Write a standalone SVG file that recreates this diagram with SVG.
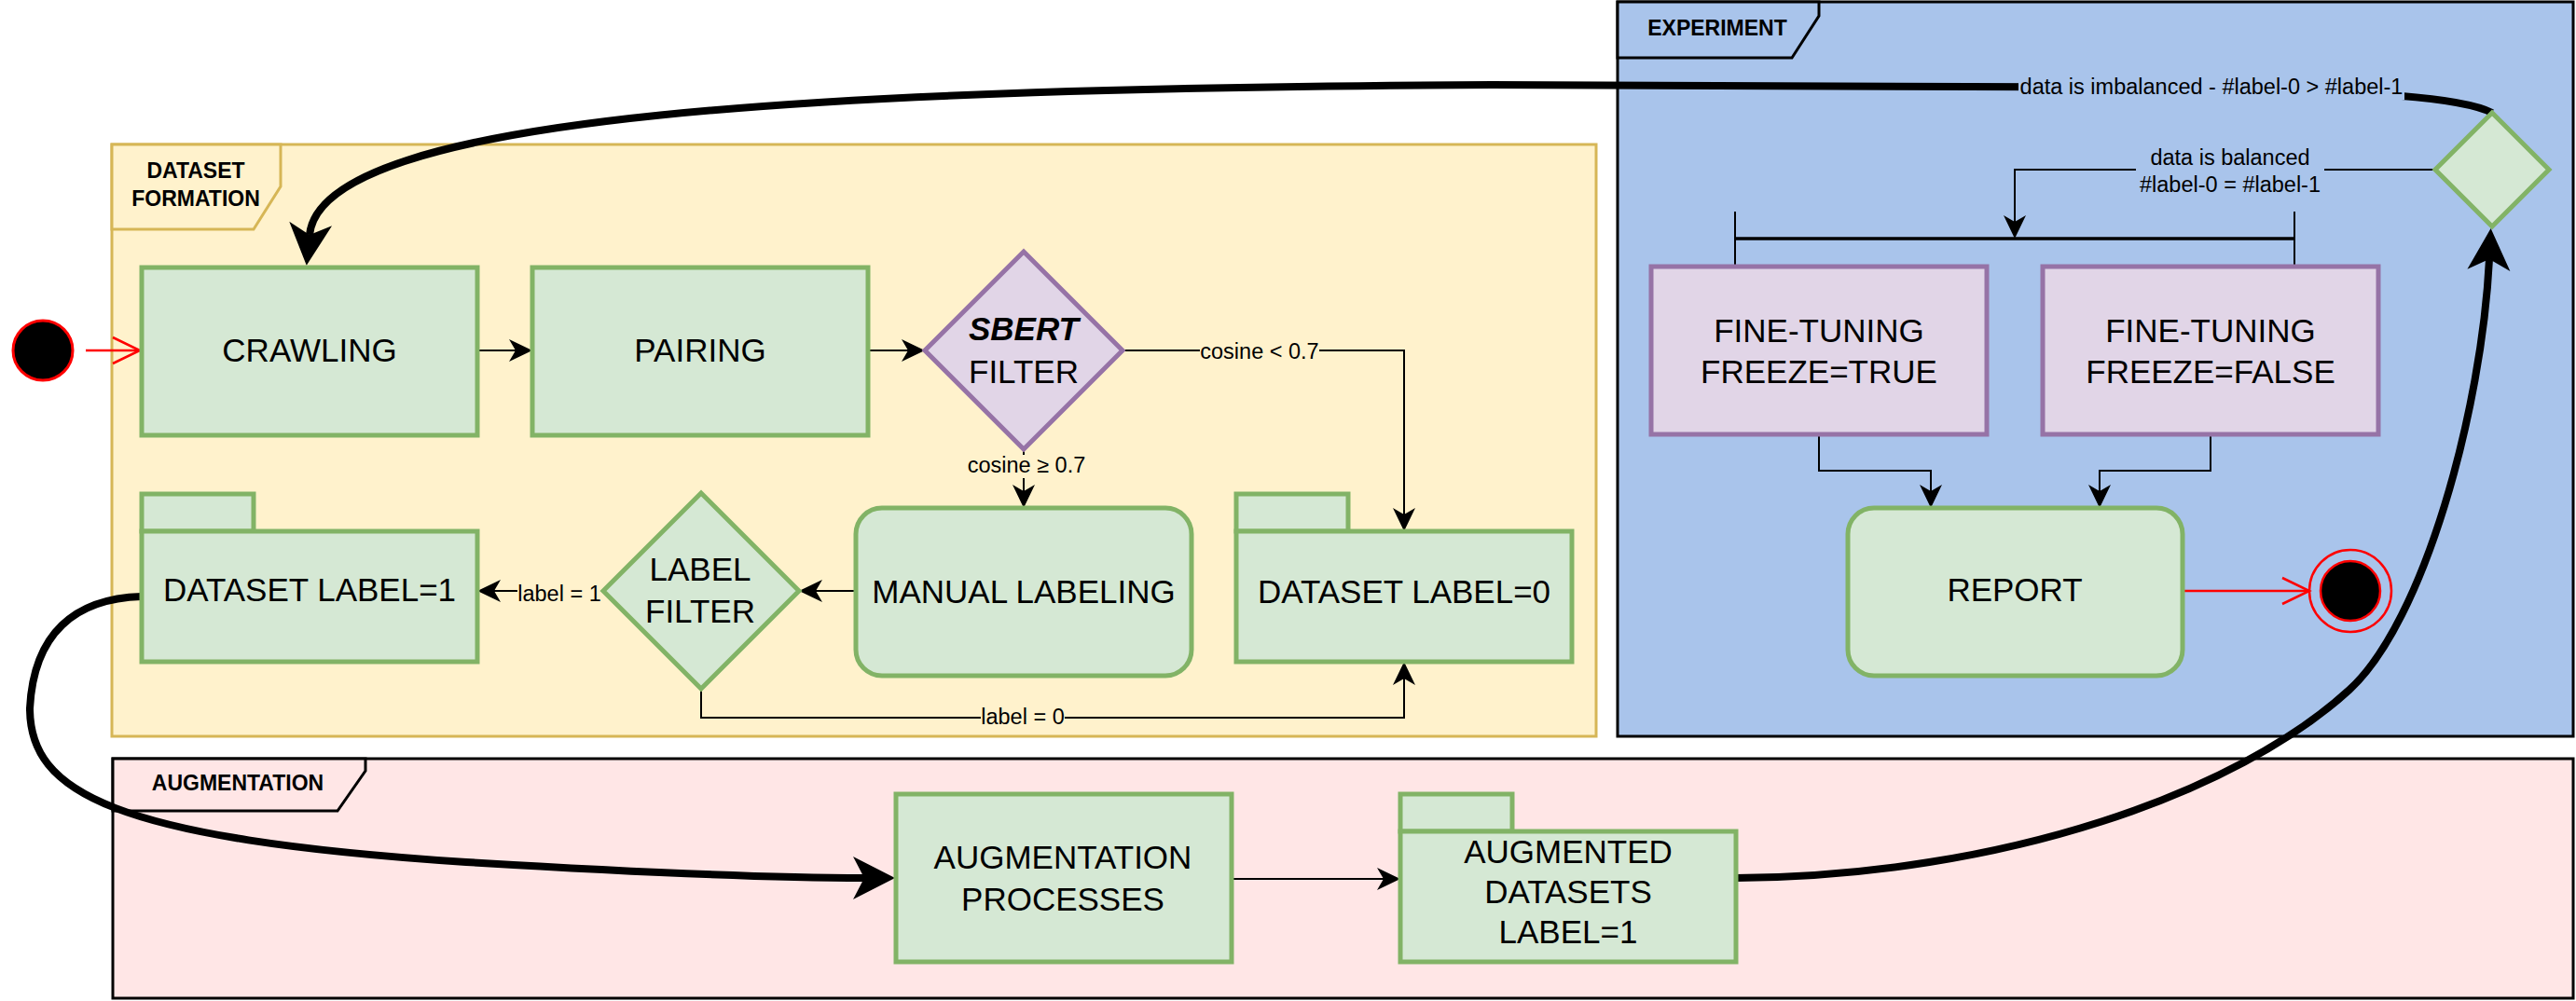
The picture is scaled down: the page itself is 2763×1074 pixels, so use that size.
<svg xmlns="http://www.w3.org/2000/svg" width="2763" height="1074" viewBox="0 0 2763 1074">
<style>
.cy{fill:#fff2cc;stroke:#d6b656;stroke-width:3}
.cb{fill:#a9c4eb;stroke:#000;stroke-width:3}
.cp{fill:#ffe6e6;stroke:#000;stroke-width:3}
.g{fill:#d5e8d4;stroke:#82b366;stroke-width:5}
.p{fill:#e1d5e7;stroke:#9673a6;stroke-width:5}
text{font-family:"Liberation Sans",Arial,Helvetica,sans-serif;text-anchor:middle;fill:#000}
.t{font-size:35px}
.tab{font-size:23px;font-weight:bold}
.l{font-size:23.5px}
.e{fill:none;stroke:#000;stroke-width:2}
.E{fill:none;stroke:#000;stroke-width:8}
.r{fill:none;stroke:#ff0000;stroke-width:2.5}
</style>
<defs>
<marker id="ah" markerUnits="userSpaceOnUse" viewBox="-8 -13 28 26" markerWidth="28" markerHeight="26" refX="0" refY="0" orient="auto"><path d="M-7,-12 L18,0 L-7,12 L0,0 Z" fill="#000"/></marker>
<marker id="ahT" markerUnits="userSpaceOnUse" viewBox="-14 -25 50 50" markerWidth="50" markerHeight="50" refX="0" refY="0" orient="auto"><path d="M-12,-23 L33,0 L-12,23 L0,0 Z" fill="#000"/></marker>
<marker id="ahR" markerUnits="userSpaceOnUse" viewBox="-32 -17 36 34" markerWidth="36" markerHeight="34" refX="0" refY="0" orient="auto"><path d="M-29,-14 L0,0 L-29,14" fill="none" stroke="#ff0000" stroke-width="2.5"/></marker>
</defs>

<g id="containers">
<g id="dataset-formation">
<rect class="cy" x="120" y="155" width="1592" height="635"/>
<polygon class="cy" points="120,155 301,155 301,200 272,246 120,246"/>
<text class="tab" x="210" y="191">DATASET</text>
<text class="tab" x="210" y="221">FORMATION</text>
</g>
<g id="experiment">
<rect class="cb" x="1735" y="2" width="1025" height="788"/>
<polygon class="cb" points="1735,2 1951,2 1951,17 1922,62 1735,62"/>
<text class="tab" x="1842" y="38">EXPERIMENT</text>
</g>
<g id="augmentation">
<rect class="cp" x="121" y="814" width="2639" height="257"/>
<polygon class="cp" points="121,814 392,814 392,827 362,870 121,870"/>
<text class="tab" x="255" y="848">AUGMENTATION</text>
</g>
</g>

<g id="connectors">
<path class="r" d="M92,376 H150" marker-end="url(#ahR)"/>
<path class="e" d="M512,376 H553" marker-end="url(#ah)"/>
<path class="e" d="M931,376 H974" marker-end="url(#ah)"/>
<path class="e" d="M1204,376 H1506 V552" marker-end="url(#ah)"/>
<path class="e" d="M1098,482 V527" marker-end="url(#ah)"/>
<path class="e" d="M918,634 H875" marker-end="url(#ah)"/>
<path class="e" d="M647,634 H530" marker-end="url(#ah)"/>
<path class="e" d="M752,739 V770 H1506 V728" marker-end="url(#ah)"/>
<path class="e" d="M1321,943 H1484" marker-end="url(#ah)"/>
<path class="e" d="M2612,182 H2161 V238" marker-end="url(#ah)"/>
<path class="e" d="M1951,466 V505 H2071 V527" marker-end="url(#ah)"/>
<path class="e" d="M2371,466 V505 H2252 V527" marker-end="url(#ah)"/>
<path class="r" d="M2340,634 H2477" marker-end="url(#ahR)"/>
<path class="E" d="M2673,121 C2640,104 2540,98 2372,95 C2100,92 1800,91 1600,91 C900,95 345,120 332,252" marker-end="url(#ahT)"/>
<path class="E" d="M152,640 C80,642 36,680 32,760 C32,850 120,900 500,925 C700,937 850,942 927,942" marker-end="url(#ahT)"/>
<path class="E" d="M1862,942 C2150,940 2400,850 2520,740 C2600,667 2662,440 2670,278" marker-end="url(#ahT)"/>

<rect x="1287" y="363" width="128" height="27" fill="#fff2cc"/>
<text class="l" x="1351" y="385">cosine &lt; 0.7</text>
<rect x="1037" y="488" width="128" height="25" fill="#fff2cc"/>
<text class="l" x="1101" y="507">cosine ≥ 0.7</text>
<rect x="1052" y="757" width="90" height="26" fill="#fff2cc"/>
<text class="l" x="1097" y="777">label = 0</text>
<rect x="555" y="622" width="90" height="26" fill="#fff2cc"/>
<text class="l" x="600" y="645">label = 1</text>
<rect x="2165" y="80" width="414" height="27" fill="#a9c4eb"/>
<text class="l" x="2372" y="101">data is imbalanced - #label-0 &gt; #label-1</text>
<rect x="2291" y="157" width="202" height="54" fill="#a9c4eb"/>
<text class="l" x="2392" y="177">data is balanced</text>
<text class="l" x="2392" y="206">#label-0 = #label-1</text>
</g>

<g id="fork">
<path d="M1861,256 H2461" stroke="#000" stroke-width="3.5" fill="none"/>
<path d="M1861,227 V286 M2461,227 V286" stroke="#000" stroke-width="2" fill="none"/>
</g>

<g id="start">
<circle cx="46" cy="376" r="32" fill="#000" stroke="#ff0000" stroke-width="3"/>
</g>
<g id="crawling">
<rect class="g" x="152" y="287" width="360" height="180"/>
<text class="t" x="332" y="388">CRAWLING</text>
</g>
<g id="pairing">
<rect class="g" x="571" y="287" width="360" height="180"/>
<text class="t" x="751" y="388">PAIRING</text>
</g>
<g id="sbert-filter">
<polygon class="p" points="1098,270 1204,376 1098,482 992,376"/>
<text class="t" x="1098" y="365" font-weight="bold" font-style="italic">SBERT</text>
<text class="t" x="1098" y="411">FILTER</text>
</g>
<g id="manual-labeling">
<rect class="g" x="918" y="545" width="360" height="180" rx="28" ry="28"/>
<text class="t" x="1098" y="647">MANUAL LABELING</text>
</g>
<g id="label-filter">
<polygon class="g" points="752,529 857,634 752,739 647,634"/>
<text class="t" x="751" y="623">LABEL</text>
<text class="t" x="751" y="668">FILTER</text>
</g>
<g id="dataset-label-1">
<rect class="g" x="152" y="530" width="120" height="40"/>
<rect class="g" x="152" y="570" width="360" height="140"/>
<text class="t" x="332" y="645">DATASET LABEL=1</text>
</g>
<g id="dataset-label-0">
<rect class="g" x="1326" y="530" width="120" height="40"/>
<rect class="g" x="1326" y="570" width="360" height="140"/>
<text class="t" x="1506" y="647">DATASET LABEL=0</text>
</g>
<g id="augmentation-processes">
<rect class="g" x="961" y="852" width="360" height="180"/>
<text class="t" x="1140" y="932">AUGMENTATION</text>
<text class="t" x="1140" y="977">PROCESSES</text>
</g>
<g id="augmented-datasets">
<rect class="g" x="1502" y="852" width="120" height="40"/>
<rect class="g" x="1502" y="892" width="360" height="140"/>
<text class="t" x="1682" y="926">AUGMENTED</text>
<text class="t" x="1682" y="969">DATASETS</text>
<text class="t" x="1682" y="1012">LABEL=1</text>
</g>
<g id="decision">
<polygon class="g" points="2673,121 2734,182 2673,243 2612,182"/>
</g>
<g id="finetune-true">
<rect class="p" x="1771" y="286" width="360" height="180"/>
<text class="t" x="1951" y="367">FINE-TUNING</text>
<text class="t" x="1951" y="411">FREEZE=TRUE</text>
</g>
<g id="finetune-false">
<rect class="p" x="2191" y="286" width="360" height="180"/>
<text class="t" x="2371" y="367">FINE-TUNING</text>
<text class="t" x="2371" y="411">FREEZE=FALSE</text>
</g>
<g id="report">
<rect class="g" x="1982" y="545" width="359" height="180" rx="28" ry="28"/>
<text class="t" x="2161" y="645">REPORT</text>
</g>
<g id="end">
<circle cx="2521" cy="634" r="44" fill="none" stroke="#ff0000" stroke-width="2.5"/>
<circle cx="2521" cy="634" r="32" fill="#000" stroke="#ff0000" stroke-width="2.5"/>
</g>
</svg>
